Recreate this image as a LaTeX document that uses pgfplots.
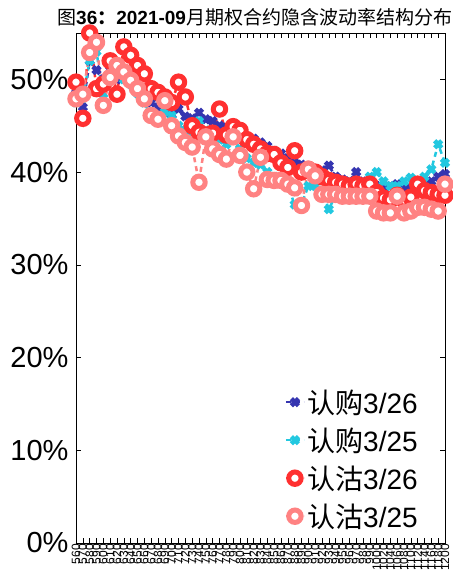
\documentclass[border=0pt]{standalone}
\usepackage{pgfplots}
\pgfplotsset{compat=1.18}
\usepackage{pgfplotstable}
\usepackage{fontspec}
\setmainfont{Liberation Sans}
\newfontfamily\cjk{Noto Sans CJK SC}
\definecolor{cblue}{HTML}{3535B0}
\definecolor{ccyan}{HTML}{22C8E0}
\definecolor{cred}{HTML}{FF3030}
\definecolor{cpink}{HTML}{FF8282}

\pgfplotstableread{
i c326 c325 p326 p325
0 48.5 47.5 49.7 47.9
1 47.0 48.0 45.8 48.4
2 52.0 52.0 55.0 52.9
3 51.0 53.0 49.0 54.0
4 50.0 48.0 49.5 47.2
5 51.0 50.0 52.0 50.2
6 50.0 51.0 48.4 51.5
7 51.0 50.0 53.5 50.8
8 50.5 49.5 52.6 49.9
9 49.5 48.5 51.5 49.0
10 48.5 47.5 50.6 47.9
11 47.5 46.0 49.0 46.1
12 47.0 45.5 48.6 45.7
13 46.5 46.5 48.1 47.7
14 46.2 46.1 47.5 45.0
15 46.8 45.0 49.7 43.9
16 46.0 44.5 48.1 43.2
17 45.8 44.0 45.0 42.7
18 46.4 45.5 44.3 38.9
19 45.7 44.5 44.0 43.8
20 45.5 44.0 44.2 42.5
21 45.0 43.5 46.8 41.9
22 44.8 43.0 44.0 41.4
23 44.5 43.5 44.9 43.8
24 44.2 42.5 44.5 41.8
25 43.8 41.5 43.5 40.0
26 43.6 41.0 43.0 38.2
27 43.2 40.8 42.5 41.6
28 42.8 40.0 42.0 39.2
29 42.3 39.5 41.9 39.1
30 42.0 39.0 41.0 39.1
31 41.5 38.5 40.5 38.7
32 41.0 36.5 42.3 38.3
33 40.8 36.5 40.0 36.4
34 40.5 38.5 40.3 40.3
35 40.3 38.5 40.0 39.6
36 40.2 38.0 39.5 37.6
37 40.7 36.0 39.1 37.6
38 39.5 37.5 38.9 37.6
39 39.2 37.5 38.7 37.4
40 39.0 38.0 38.5 37.4
41 40.0 38.0 38.7 37.4
42 39.0 38.5 38.5 37.4
43 38.8 39.5 38.7 37.4
44 38.5 40.0 37.8 35.8
45 38.2 39.0 37.2 35.6
46 38.5 38.5 37.0 35.6
47 38.7 38.5 37.5 37.4
48 38.3 39.0 37.0 35.6
49 38.2 39.4 37.3 35.8
50 38.5 39.0 38.7 36.2
51 38.8 39.5 38.0 36.2
52 39.0 40.3 37.8 36.0
53 39.5 43.0 37.6 35.8
54 39.8 41.0 37.5 38.7
}\data

\begin{document}
\begin{tikzpicture}[x=1pt,y=1pt]
\path[use as bounding box] (0,0) rectangle (453,582);
\node[anchor=west, inner sep=0] at (57,565) {\fontsize{19}{19}\selectfont{\cjk 图}\textbf{36}{\cjk\bfseries ：}\textbf{2021-09}{\cjk 月期权合约隐含波动率结构分布}};
\begin{axis}[
  at={(76pt,39pt)}, anchor=south west,
  scale only axis, width=369pt, height=510pt,
  xmin=0, xmax=54, ymin=0, ymax=55,
  clip=false,
  axis line style={line width=0.8pt},
  tick align=inside, major tick length=5pt,
  tick style={black, line width=0.6pt},
  xtick={0,...,54},
  xticklabels={560,570,580,590,600,610,620,630,640,650,660,670,680,690,700,710,720,730,740,750,760,770,780,790,800,810,820,830,840,850,860,870,880,890,900,910,920,930,940,950,960,970,980,990,1000,1020,1040,1060,1080,1100,1120,1140,1160,1180,1200},
  xticklabel style={font=\fontsize{12}{12}\selectfont, rotate=90, anchor=east, inner sep=1pt},
  ytick={0,10,20,30,40,50},
  yticklabel={\pgfmathprintnumber{\tick}\%},
  yticklabel style={font=\fontsize{29}{29}\selectfont, xshift=-4pt},
  /pgf/number format/assume math mode=true,
  legend style={at={(0.565,0.305)}, anchor=north west, draw=none, fill=none,
    font=\fontsize{28}{28}\selectfont, row sep=9pt, inner sep=0pt},
  legend cell align=left,
  legend image code/.code={\draw[mark repeat=2,mark phase=2] plot coordinates {(0pt,0pt) (9pt,0pt) (18pt,0pt)};},
]
\addplot[cblue, line width=2.5pt, dash pattern=on 5pt off 4pt, mark=x, mark size=5pt, mark options={solid, line width=4.5pt}] table[x=i, y=c326] {\data};
\addlegendentry{{\cjk 认购}3/26}
\addplot[ccyan, line width=2.5pt, dash pattern=on 5pt off 4pt, mark=x, mark size=5pt, mark options={solid, line width=4.5pt}] table[x=i, y=c325] {\data};
\addlegendentry{{\cjk 认购}3/25}
\addplot[cred, line width=2.5pt, dash pattern=on 5pt off 4pt, mark=*, mark size=6.2pt, mark options={solid, fill=white, draw=cred, line width=5pt}] table[x=i, y=p326] {\data};
\addlegendentry{{\cjk 认沽}3/26}
\addplot[cpink, line width=2.5pt, dash pattern=on 5pt off 4pt, mark=*, mark size=6.2pt, mark options={solid, fill=white, draw=cpink, line width=5pt}] table[x=i, y=p325] {\data};
\addlegendentry{{\cjk 认沽}3/25}
\end{axis}
\end{tikzpicture}
\end{document}
